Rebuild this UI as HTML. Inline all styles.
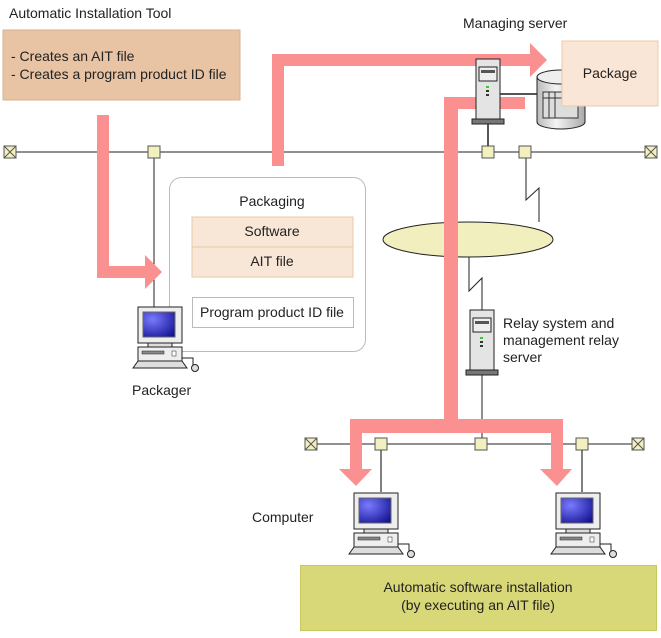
<!DOCTYPE html>
<html><head><style>
body{margin:0;background:#fff;}
svg text{font-family:"Liberation Sans",Arial,sans-serif;font-size:14px;fill:#222;}
</style></head><body>
<svg width="661" height="633" viewBox="0 0 661 633" xmlns="http://www.w3.org/2000/svg">
<defs>
<radialGradient id="scr" cx="0.3" cy="0.3" r="0.9"><stop offset="0" stop-color="#7a7aff"/><stop offset="1" stop-color="#101090"/></radialGradient>
<linearGradient id="cyl" x1="0" x2="1"><stop offset="0" stop-color="#bbb"/><stop offset="0.4" stop-color="#f4f4f4"/><stop offset="1" stop-color="#aaa"/></linearGradient>
<g id="pc">
<rect x="0" y="0" width="44" height="36" fill="#eee" stroke="#222"/>
<rect x="5" y="5" width="32" height="25" fill="url(#scr)" stroke="#666"/>
<rect x="10" y="36" width="24" height="4" fill="#ddd" stroke="#222"/>
<rect x="0" y="40" width="44" height="14" fill="#eee" stroke="#222"/>
<rect x="4" y="44" width="22" height="3" fill="#888" stroke="#222" stroke-width="0.5"/>
<rect x="34" y="44" width="4" height="5" fill="#fff" stroke="#222" stroke-width="0.5"/>
<path d="M-5 61 L0 54 L44 54 L49 61 Z" fill="#ddd" stroke="#222"/>
<path d="M44 51 L55 51 L55 58" fill="none" stroke="#222"/>
<circle cx="57" cy="61" r="3.5" fill="#ddd" stroke="#222"/>
</g>
<g id="srv">
<rect x="0" y="0" width="24" height="60" fill="#e4e4e4" stroke="#222"/>
<rect x="3" y="8" width="18" height="14" fill="#eee" stroke="#222"/>
<rect x="5" y="11" width="14" height="3" fill="#555"/>
<rect x="10" y="27" width="3" height="2" fill="#3c3"/>
<rect x="10" y="31" width="3" height="2" fill="#333"/>
<rect x="10" y="35" width="3" height="2" fill="#333"/>
<rect x="-4" y="60" width="32" height="5" fill="#777" stroke="#222"/>
</g>
<g id="nd"><rect x="-6" y="-6" width="12" height="12" fill="#f3f0c0" stroke="#555"/></g>
<g id="tm"><rect x="-6" y="-6" width="12" height="12" fill="#f3f0c0" stroke="#555"/><path d="M-6 -6 L6 6 M6 -6 L-6 6" stroke="#555"/></g>
</defs>

<rect x="3" y="30" width="237" height="70" fill="#e8c4a4" stroke="#d8b090"/>
<text x="9" y="18">Automatic Installation Tool</text>
<text x="11" y="61">- Creates an AIT file</text>
<text x="11" y="79">- Creates a program product ID file</text>

<line x1="10" y1="152" x2="651" y2="152" stroke="#222"/>
<line x1="154" y1="152" x2="154" y2="310" stroke="#222"/>
<line x1="488" y1="152" x2="488" y2="120" stroke="#555" stroke-width="2"/>
<line x1="500" y1="94" x2="540" y2="94" stroke="#555" stroke-width="2"/>
<polyline points="526,152 526,200 539,188 539,222" fill="none" stroke="#222"/>

<rect x="169.5" y="177.5" width="196" height="174" rx="12" fill="#fff" stroke="#bbb"/>
<text x="272" y="206" text-anchor="middle">Packaging</text>
<rect x="192" y="217" width="161" height="60" fill="#f8e6d6" stroke="#e8c8a8"/>
<line x1="192" y1="247" x2="353" y2="247" stroke="#e8c8a8"/>
<text x="272" y="236" text-anchor="middle">Software</text>
<text x="272" y="266" text-anchor="middle">AIT file</text>
<rect x="192.5" y="297.5" width="161" height="30" fill="#fff" stroke="#bbb"/>
<text x="272" y="317" text-anchor="middle">Program product ID file</text>

<ellipse cx="468" cy="239.5" rx="85" ry="17.5" fill="#f2efbe" stroke="#222"/>
<polyline points="469,257 469,291 482,278 482,310" fill="none" stroke="#222"/>
<line x1="482" y1="374" x2="482" y2="444" stroke="#222"/>

<line x1="311" y1="444" x2="638" y2="444" stroke="#222"/>
<line x1="381" y1="444" x2="381" y2="492" stroke="#555" stroke-width="1.5"/>
<line x1="582" y1="444" x2="582" y2="492" stroke="#555" stroke-width="1.5"/>

<path d="M537 77 L537 122 A24 7 0 0 0 585 122 L585 77" fill="url(#cyl)" stroke="#222"/>
<ellipse cx="561" cy="77" rx="24" ry="7" fill="#eee" stroke="#222"/>
<rect x="543" y="92" width="35" height="26" fill="#ddd" stroke="#333"/>
<path d="M543 98 H578 M549 92 V118 M555 92 V118" stroke="#333"/>

<g fill="#fa9090">
<path d="M97 115 H109 V266 H145 V255 L162 272 L145 289 V278 H97 Z"/>
<path d="M272 166 H284 V66 H530 V43 L547 60 L530 77 V54 H272 Z"/>
<path d="M525 97 V109 H458 V419 H563 V469 H572 L557 486 L540 469 H551 V433 H362 V469 H372 L356 486 L339 469 H350 V419 H444 V97 Z"/>
</g>

<rect x="562" y="41" width="96" height="65" fill="#fae6d6" stroke="#eccaa8"/>
<text x="610" y="78" text-anchor="middle">Package</text>
<text x="463" y="28">Managing server</text>

<use href="#srv" x="476" y="59"/>
<use href="#srv" x="470" y="310"/>

<use href="#nd" x="154" y="152"/><use href="#nd" x="488" y="152"/><use href="#nd" x="525" y="152"/>
<use href="#tm" x="10" y="152"/><use href="#tm" x="651" y="152"/>
<use href="#nd" x="381" y="444"/><use href="#nd" x="481" y="444"/><use href="#nd" x="582" y="444"/>
<use href="#tm" x="311" y="444"/><use href="#tm" x="638" y="444"/>

<use href="#pc" x="138" y="307"/>
<use href="#pc" x="354" y="493"/>
<use href="#pc" x="556" y="493"/>

<text x="132" y="395">Packager</text>
<text x="503" y="328">Relay system and</text>
<text x="503" y="345">management relay</text>
<text x="503" y="362">server</text>
<text x="252" y="522">Computer</text>

<rect x="300.5" y="565.5" width="356" height="65" fill="#d8d878" stroke="#c8c860"/>
<text x="478" y="592" text-anchor="middle">Automatic software installation</text>
<text x="478" y="610" text-anchor="middle">(by executing an AIT file)</text>
</svg>
</body></html>
